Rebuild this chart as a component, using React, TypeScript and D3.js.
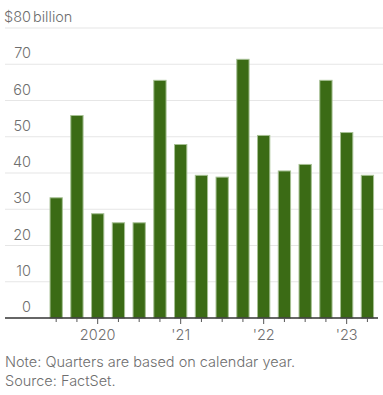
import React from "react";
import * as d3 from "d3";

const quarters = ["Q4 2019","Q1 2020","Q2 2020","Q3 2020","Q4 2020","Q1 2021","Q2 2021","Q3 2021","Q4 2021","Q1 2022","Q2 2022","Q3 2022","Q4 2022","Q1 2023","Q2 2023","Q3 2023"];
const values = [33.3, 56.0, 28.9, 26.4, 26.4, 65.7, 48.0, 39.5, 39.0, 71.5, 50.5, 40.7, 42.5, 65.7, 51.3, 39.5];
const yTicks = [0, 10, 20, 30, 40, 50, 60, 70, 80];
const yearLabels = [
  { q: "Q2 2020", label: "2020" },
  { q: "Q2 2021", label: "'21" },
  { q: "Q2 2022", label: "'22" },
  { q: "Q2 2023", label: "'23" },
];

const W = 383, H = 395;
const FONT = "Inter, 'DejaVu Sans', sans-serif";
const TXT = "#6e6e6e";
const FS = 14.5;

export default function App() {
  const y = d3.scaleLinear().domain([0, 80]).range([318, 28]);
  const x = d3.scaleBand<string>().domain(quarters).range([45.6, 378]).paddingInner(0.36).paddingOuter(0.19);
  const labelSet = new Set(yearLabels.map(d => d.q));
  return (
    <svg width={W} height={H} style={{ position: "absolute", left: 0, top: 0 }}>
      <rect width={W} height={H} fill="#fff" />
      {yTicks.map(t => (
        <g key={t}>
          {t > 0 && <line x1={5} x2={383} y1={y(t)} y2={y(t)} stroke="#e6e6e6" strokeWidth={1.2} />}
          <text x={31} y={y(t) - 6} fontFamily={FONT} fontSize={FS} fill={TXT} textAnchor="end" fontWeight={300}>{t === 80 ? "$80" : String(t)}</text>
          {t === 80 && <text x={33} y={y(t) - 6} fontFamily={FONT} fontSize={FS} fill={TXT} fontWeight={300}>billion</text>}
        </g>
      ))}
      {quarters.map((q, i) => (
        <rect key={q} x={x(q)! + 0.5} y={y(values[i]) + 0.5} width={x.bandwidth() - 1} height={y(0) - y(values[i]) - 0.5}
          fill="#3b6b15" stroke="#a6c093" strokeWidth={1} />
      ))}
      <line x1={5} x2={378} y1={y(0)} y2={y(0)} stroke="#333" strokeWidth={1.3} />
      {quarters.map(q => {
        const cx = x(q)! + x.bandwidth() / 2;
        const major = labelSet.has(q);
        return <line key={q} x1={cx} x2={cx} y1={y(0)} y2={y(0) + (major ? 6 : 4)} stroke="#555" strokeWidth={1} />;
      })}
      {yearLabels.map(d => (
        <text key={d.q} x={x(d.q)! + x.bandwidth() / 2} y={340} fontFamily={FONT} fontSize={FS} fill={TXT} textAnchor="middle" fontWeight={300}>{d.label}</text>
      ))}
      <text x={5} y={367} fontFamily={FONT} fontSize={FS} fill={TXT} fontWeight={300}>Note: Quarters are based on calendar year.</text>
      <text x={5} y={386} fontFamily={FONT} fontSize={FS} fill={TXT} fontWeight={300}>Source: FactSet.</text>
    </svg>
  );
}
